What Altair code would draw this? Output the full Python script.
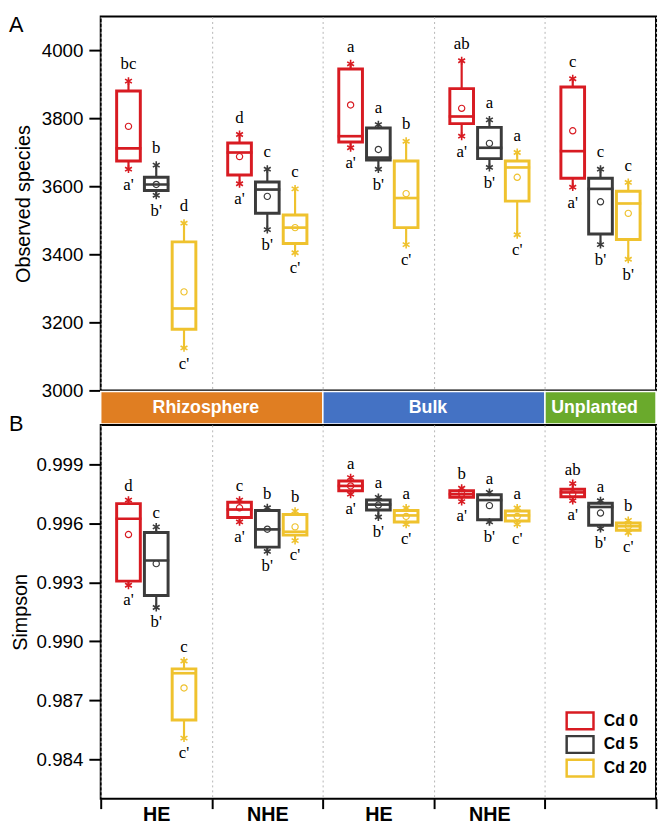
import altair as alt
import pandas as pd

# ---------------- categories ----------------
groups = ["Rhizosphere HE", "Rhizosphere NHE", "Bulk HE", "Bulk NHE", "Unplanted"]
group_labels = ["HE", "NHE", "HE", "NHE", ""]
treatments = ["Cd 0", "Cd 5", "Cd 20"]
treatment_colors = ["#D81B22", "#3B3B3B", "#EFC22E"]

regions = ["Rhizosphere", "Bulk", "Unplanted"]
region_start = [0, 2, 4]
region_end = [2, 4, 5]
region_colors = ["#E07E22", "#4472C4", "#6AAA2C"]

# ---------------- Panel A: Observed species (group-major, Cd 0 / Cd 5 / Cd 20) ----------------
obs_whi = [3910, 3663, 3492, 3753, 3651, 3593, 3961, 3782, 3733, 3970, 3796, 3700, 3917, 3651, 3612]
obs_q3 = [3881, 3627, 3437, 3728, 3613, 3516, 3946, 3772, 3675, 3888, 3774, 3675, 3893, 3624, 3586]
obs_med = [3712, 3606, 3241, 3700, 3591, 3479, 3748, 3685, 3566, 3806, 3714, 3656, 3704, 3593, 3550]
obs_q1 = [3675, 3588, 3180, 3634, 3521, 3432, 3731, 3678, 3479, 3785, 3682, 3557, 3624, 3460, 3444]
obs_wlo = [3651, 3574, 3125, 3608, 3473, 3405, 3714, 3651, 3429, 3748, 3656, 3458, 3598, 3429, 3386]
obs_mean = [3777, 3606, 3290, 3688, 3571, 3479, 3840, 3709, 3579, 3830, 3727, 3627, 3764, 3555, 3521]
obs_top = ["bc", "b", "d", "d", "c", "c", "a", "a", "b", "ab", "a", "a", "c", "c", "c"]
obs_bot = ["a'", "b'", "c'", "a'", "b'", "c'", "a'", "b'", "c'", "a'", "b'", "c'", "a'", "b'", "b'"]
obs_ticks = [3000, 3200, 3400, 3600, 3800, 4000]
obs_domain = [3000, 4100]

# ---------------- Panel B: Simpson ----------------
simp_whi = [0.99718, 0.99582, 0.98900, 0.99718, 0.99679, 0.99662, 0.99832, 0.99732, 0.99678,
            0.99778, 0.99757, 0.99678, 0.99802, 0.99715, 0.99615]
simp_q3 = [0.99700, 0.99553, 0.98860, 0.99707, 0.99665, 0.99645, 0.99815, 0.99718, 0.99665,
           0.99765, 0.99745, 0.99662, 0.99773, 0.99702, 0.99602]
simp_med = [0.99623, 0.99411, 0.98838, 0.99670, 0.99569, 0.99557, 0.99790, 0.99695, 0.99640,
            0.99748, 0.99718, 0.99640, 0.99757, 0.99683, 0.99585]
simp_q1 = [0.99306, 0.99233, 0.98600, 0.99629, 0.99479, 0.99540, 0.99765, 0.99668, 0.99607,
           0.99732, 0.99618, 0.99612, 0.99735, 0.99590, 0.99565]
simp_wlo = [0.99285, 0.99172, 0.98508, 0.99607, 0.99457, 0.99512, 0.99748, 0.99632, 0.99595,
            0.99710, 0.99607, 0.99595, 0.99715, 0.99573, 0.99552]
simp_mean = [0.99543, 0.99395, 0.98763, 0.99679, 0.99570, 0.99582, 0.99790, 0.99693, 0.99635,
             0.99750, 0.99690, 0.99635, 0.99750, 0.99652, 0.99585]
simp_top = ["d", "c", "c", "c", "b", "b", "a", "a", "a", "b", "a", "a", "ab", "a", "b"]
simp_bot = ["a'", "b'", "c'", "a'", "b'", "c'", "a'", "b'", "c'", "a'", "b'", "c'", "a'", "b'", "c'"]
simp_ticks = [0.984, 0.987, 0.990, 0.993, 0.996, 0.999]
simp_domain = [0.982, 1.001]

SANS = "Liberation Sans"
SERIF = "Liberation Serif"
STAR = "M0,-1L0,1M-0.87,-0.5L0.87,0.5M-0.87,0.5L0.87,-0.5"
LEGEND_BOX = "M-1.6,-1L1.6,-1L1.6,1L-1.6,1Z"


def make_df(wlo, q1, med, q3, whi, mean, top, bot):
    rows = []
    for gi, g in enumerate(groups):
        for ti, t in enumerate(treatments):
            k = gi * 3 + ti
            rows.append(dict(group=g, treatment=t, wlo=wlo[k], q1=q1[k], med=med[k],
                             q3=q3[k], whi=whi[k], mean=mean[k], top=top[k], bot=bot[k]))
    return pd.DataFrame(rows)


label_expr = "".join(
    f"datum.value == '{g}' ? '{l}' : " for g, l in zip(groups, group_labels)
) + "''"


def panel(df, ydomain, yticks, yfmt, ytitle, letter, letter_y, top_dy, bot_dy,
          bottom_axis, show_legend, title_pad):
    if bottom_axis:
        xaxis = alt.Axis(title=None, labelExpr=label_expr, labelFontSize=20, labelFontWeight="bold",
                         labelPadding=-4, labelAngle=0, tickSize=10, tickWidth=2, tickBand="extent",
                         grid=True, gridDash=[2, 3], gridColor="#B5B5B5", gridWidth=1, domain=False)
    else:
        xaxis = alt.Axis(title=None, labels=False, ticks=False, domain=False, grid=True,
                         tickBand="extent", gridDash=[2, 3], gridColor="#B5B5B5", gridWidth=1)
    x = alt.X("group:N", sort=groups,
              scale=alt.Scale(domain=groups, paddingInner=0, paddingOuter=0), axis=xaxis)
    xo = alt.XOffset("treatment:N", sort=treatments,
                     scale=alt.Scale(domain=treatments, paddingInner=0, paddingOuter=0.5))
    yaxis = alt.Axis(title=ytitle, values=yticks, format=yfmt, tickSize=12, tickWidth=2,
                     labelFontSize=19, labelPadding=6, titleFontSize=20, titleFontWeight="normal",
                     titlePadding=title_pad, domain=False, grid=False)
    yscale = alt.Scale(domain=ydomain, nice=False, zero=False)
    cscale = alt.Scale(domain=treatments, range=treatment_colors)
    if show_legend:
        leg = alt.Legend(orient="none", legendX=476, legendY=290, title=None,
                         symbolType=LEGEND_BOX, symbolSize=289, symbolStrokeWidth=2.5,
                         symbolFillColor="white", symbolOpacity=1, labelFont=SANS, labelFontSize=16,
                         labelFontWeight="bold", labelColor="black", labelOffset=14,
                         rowPadding=-8, padding=0)
    else:
        leg = None
    color = alt.Color("treatment:N", sort=treatments, scale=cscale, legend=leg)

    def Y(field):
        return alt.Y(field, scale=yscale, axis=yaxis)

    base = alt.Chart(df)
    whisk = base.mark_rule(strokeWidth=2.2).encode(
        x=x, xOffset=xo, y=Y("wlo:Q"), y2="whi:Q", color=color)
    box = base.mark_bar(size=24, filled=False, fill="white", strokeWidth=3).encode(
        x=x, xOffset=xo, y=Y("q1:Q"), y2="q3:Q", color=color)
    med = base.mark_tick(size=24, thickness=0.5, filled=False, strokeWidth=2.2, opacity=1).encode(
        x=x, xOffset=xo, y=Y("med:Q"), color=color)
    ends = base.transform_fold(["wlo", "whi"], as_=["end", "val"]).mark_point(
        shape=STAR, size=64, filled=False, strokeWidth=1.6, opacity=1).encode(
        x=x, xOffset=xo, y=Y("val:Q"), color=color)
    mean = base.mark_point(shape="circle", size=40, filled=False, strokeWidth=1.2, opacity=1).encode(
        x=x, xOffset=xo, y=Y("mean:Q"), color=color)
    ttop = base.mark_text(font=SERIF, fontSize=17, dy=top_dy, baseline="middle", color="black").encode(
        x=x, xOffset=xo, y=Y("whi:Q"), text="top:N")
    tbot = base.mark_text(font=SERIF, fontSize=17, dy=bot_dy, baseline="middle", color="black").encode(
        x=x, xOffset=xo, y=Y("wlo:Q"), text="bot:N")
    lab = alt.Chart(pd.DataFrame({"t": [letter]})).mark_text(
        font=SANS, fontSize=22, align="left", baseline="top", color="black").encode(
        text="t:N", x=alt.value(-93), y=alt.value(letter_y))
    return alt.layer(whisk, box, med, ends, mean, ttop, tbot, lab).properties(width=563, height=379)


dfA = make_df(obs_wlo, obs_q1, obs_med, obs_q3, obs_whi, obs_mean, obs_top, obs_bot)
dfB = make_df(simp_wlo, simp_q1, simp_med, simp_q3, simp_whi, simp_mean, simp_top, simp_bot)

panelA = panel(dfA, obs_domain, obs_ticks, "d", "Observed species", "A", -1, -17, 16,
               False, False, 8)
panelB = panel(dfB, simp_domain, simp_ticks, ".3f", "Simpson", "B", -11, -14, 15,
               True, True, 6)

band_df = pd.DataFrame({"region": regions, "start": region_start, "end": region_end})
bx = alt.Scale(domain=[0, 5], nice=False, zero=False)
band_rect = alt.Chart(band_df).mark_rect(stroke="white", strokeWidth=1.5).encode(
    x=alt.X("start:Q", scale=bx, axis=None), x2="end:Q",
    y=alt.value(0), y2=alt.value(33),
    fill=alt.Fill("region:N", scale=alt.Scale(domain=regions, range=region_colors), legend=None))
band_text = alt.Chart(band_df).transform_calculate(mid="(datum.start + datum.end) / 2").mark_text(
    font=SANS, fontSize=18, fontWeight="bold", color="white", baseline="middle", dx=-6).encode(
    x=alt.X("mid:Q", scale=bx, axis=None), y=alt.value(16.5), text="region:N")
band = alt.layer(band_rect, band_text).properties(
    width=563, height=33, view=alt.ViewBackground(strokeWidth=0))

chart = alt.vconcat(panelA, band, panelB, spacing=1, bounds="flush").resolve_scale(
    color="independent", fill="independent").resolve_legend(
    color="independent", fill="independent").properties(padding=0).configure_view(
    stroke="black", strokeWidth=2).configure_axis(
    labelFont=SANS, titleFont=SANS, labelColor="black", titleColor="black",
    tickColor="black", domainColor="black")

chart.save("out.html", embed_options={"renderer": "svg", "actions": False})
